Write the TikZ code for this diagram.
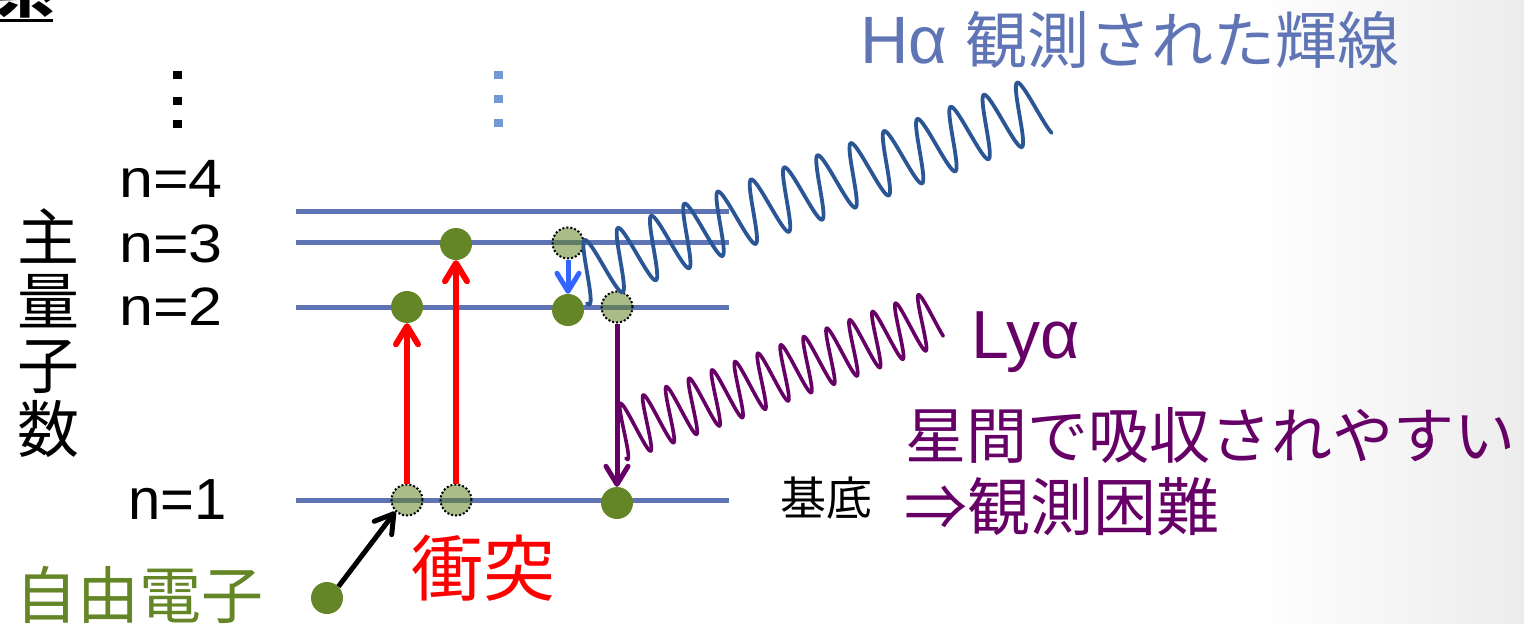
\documentclass[tikz,border=0pt]{standalone}
\usepackage{fontspec}
\usepackage{graphicx}
\setmainfont{Liberation Sans}
\newfontfamily\jp{Noto Sans CJK JP}
\usetikzlibrary{arrows.meta}
\definecolor{lvl}{RGB}{95,116,180}
\definecolor{htxt}{RGB}{96,117,181}
\definecolor{egreen}{RGB}{100,134,38}
\definecolor{hwave}{RGB}{42,86,150}
\definecolor{purp}{RGB}{102,0,102}
\definecolor{barrow}{RGB}{51,102,255}
\definecolor{bdot}{RGB}{115,153,212}
\definecolor{bggray}{RGB}{236,236,236}
\newcommand\setfs[1]{\fontsize{#1}{#1}\selectfont}
\begin{document}
\begin{tikzpicture}[x=1pt,y=-1pt,
  txt/.style={inner sep=0pt, anchor=base west},
  level/.style={draw=lvl, line width=5pt},
  el/.style={circle, fill=egreen, minimum size=32pt, inner sep=0pt},
  exc/.style={circle, fill=egreen, fill opacity=0.55, draw=black, draw opacity=1,
    line width=2pt, dash pattern=on 2pt off 2pt, minimum size=31pt, inner sep=0pt},
  arr/.style={line width=#1, -{Straight Barb[length=18pt,width=22pt,round]}},
  sq/.style={inner sep=0pt, minimum width=9pt, minimum height=8pt, fill=#1}
]
\useasboundingbox (0,0) rectangle (1524,624);
\clip (0,0) rectangle (1524,624);
\shade[left color=white, right color=bggray] (1250,0) rectangle (1524,624);

% cut-off heading
\node[txt] (kei) at (-5,12) {\jp\bfseries\setfs{60}系};
\draw[line width=3pt] (0,20) -- (53,20);

% dots
\foreach \y [count=\i] in {75,101,124} \node[sq=black] (dk\i) at (177.5,\y) {};
\foreach \y [count=\i] in {75,99,123} \node[sq=bdot] (db\i) at (498.5,\y) {};

% labels
\node[txt] (n4) at (119,197) {\setfs{54}\scalebox{1.13}[1]{n=4}};
\node[txt] (n3) at (119,262) {\setfs{54}\scalebox{1.13}[1]{n=3}};
\node[txt] (n2) at (119,325) {\setfs{54}\scalebox{1.13}[1]{n=2}};
\node[txt] (n1) at (128,519) {\setfs{58}n=1};
\foreach \c/\y [count=\i] in {主/260,量/324,子/388,数/452}
  \node[inner sep=0pt, anchor=base] (q\i) at (48,\y) {\jp\setfs{62}\c};

% levels
\coordinate (l4a) at (296,211); \coordinate (l4b) at (729,211);
\coordinate (l3a) at (296,242); \coordinate (l3b) at (729,242);
\coordinate (l2a) at (296,307); \coordinate (l2b) at (729,307);
\coordinate (l1a) at (296,500); \coordinate (l1b) at (729,500);
\draw[level] (l4a) -- (l4b);
\draw[level] (l3a) -- (l3b);
\draw[level] (l2a) -- (l2b);
\draw[level] (l1a) -- (l1b);

% electrons
\node[el] (e3) at (456,244) {};
\node[el] (e2a) at (407,307) {};
\node[el] (e2b) at (568,310) {};
\node[el] (e1) at (617,503) {};
\node[el] (fr) at (327,598) {};
\node[exc] (d3) at (568,243) {};
\node[exc] (d2) at (617,307) {};
\node[exc] (g1a) at (407,500) {};
\node[exc] (g1b) at (456,500) {};

% transitions
\draw[arr=6pt, red] (g1a.north) -- (e2a.south);
\draw[arr=6pt, red] (g1b.north) -- (e3.south);
\draw[arr=5pt, barrow] (d3.south) -- (e2b.north);
\draw[arr=5pt, purp] (d2.south) -- (e1.north);
\draw[arr=5pt, black] (fr.north east) -- (g1a.south west);

% photons
\draw[hwave, line width=3.8pt, line cap=round] plot[domain=-55:440, samples=700, smooth]
  ({628.6+0.9397*\x-0.342*31*cos(\x/35.4*360)}, {257.1-0.342*\x-0.9397*31*cos(\x/35.4*360)});
\draw[purp, line width=3.6pt, line cap=round] plot[domain=-38:302, samples=700, smooth]
  ({652.7+0.9397*\x-0.342*27.5*cos(\x/24.4*360)}, {420.9-0.342*\x-0.9397*27.5*cos(\x/24.4*360)});

% texts
\node[txt, text=htxt] (ha) at (860,63) {\setfs{67}Hα\ \jp\setfs{62}観測された輝線};
\node[txt, text=purp] (lya) at (971,358) {\setfs{68}Lyα};
\node[txt, text=purp] (abs1) at (905,458) {\jp\setfs{61}星間で吸収されやすい};
\node[txt, text=purp] (abs2) at (904,530) {\jp\setfs{63}⇒観測困難};
\node[txt] (kitei) at (780,515) {\jp\setfs{46}基底};
\node[txt, text=red] (sho) at (411,595) {\jp\setfs{72}衝突};
\node[txt, text=egreen] (jiyu) at (15,618) {\jp\setfs{62}自由電子};
\end{tikzpicture}
\end{document}
